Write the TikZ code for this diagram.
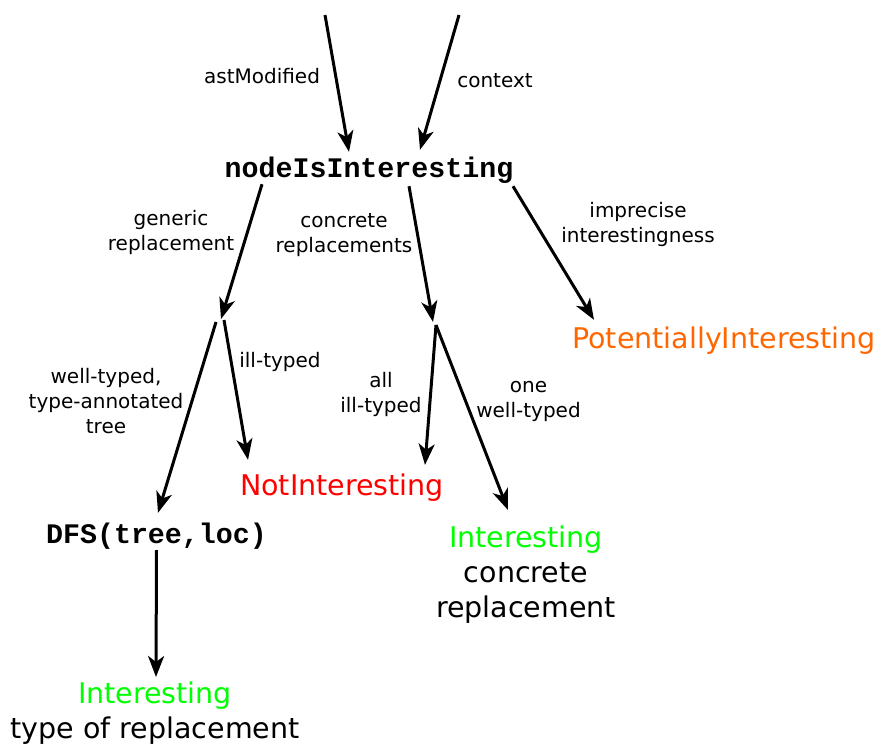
\documentclass[tikz,border=0pt]{standalone}
\usepackage{fontspec}
\setmainfont{DejaVu Sans}
\newfontfamily\codefont{Liberation Mono}
\usepackage{xcolor}
\usepackage{tikz}
\usetikzlibrary{arrows.meta}

\definecolor{potorange}{RGB}{255,102,0}
\definecolor{okgreen}{RGB}{0,255,0}
\definecolor{badred}{RGB}{255,0,0}

\begin{document}
\begin{tikzpicture}[
  x=1pt, y=-1pt,
  lbl/.style={align=center, inner sep=0pt, font=\fontsize{20}{25}\selectfont},
  code/.style={inner sep=0pt, text height=17pt, text depth=5pt,
               font=\codefont\bfseries\fontsize{28.3}{34}\selectfont},
  res/.style={align=center, inner sep=0pt, font=\fontsize{28.5}{35.2}\selectfont},
  arr/.style={-{Stealth[length=21pt, width=16pt, inset=6pt]}, line width=3pt},
]
\useasboundingbox (0,0) rectangle (878,745);

% Inputs
\coordinate (srcast) at (325,15);
\coordinate (srcctx) at (459,15);
\node[code, anchor=base] (nii) at (369,177) {nodeIsInteresting};

% Results
\node[res, anchor=base, text=potorange] (pot) at (724,348) {PotentiallyInteresting};
\node[res, anchor=base, text=badred] (notint) at (342,495) {NotInteresting};
\node[code, anchor=base] (dfs) at (156.5,543) {DFS(tree,loc)};
\node[res, anchor=north] (intc) at (526,525.3) {\textcolor{okgreen}{Interesting}\\concrete\\replacement};
\node[res, anchor=north] (intt) at (155,681.3) {\textcolor{okgreen}{Interesting}\\type of replacement};

% Splits
\coordinate (gensplit) at (221,319);
\coordinate (concsplit) at (433,322);

% Labels
\node[lbl, anchor=base] (lamod) at (262,83) {astModified};
\node[lbl, anchor=base] (lctx) at (495,87) {context};
\node[lbl, anchor=north] (lgen) at (171,209.8) {generic\\replacement};
\node[lbl, anchor=north] (lconc) at (344,213) {concrete\\replacements};
\node[lbl, anchor=north] (limp) at (638,201.8) {imprecise\\interestingness};
\node[lbl, anchor=north] (lwell) at (106,367.8) {well-typed,\\type-annotated\\tree};
\node[lbl, anchor=base] (lill) at (280,367) {ill-typed};
\node[lbl, anchor=north] (lall) at (381,371.8) {all\\ill-typed};
\node[lbl, anchor=north] (lone) at (528.5,381.1) {one\\well-typed};

% Arrows
\draw[arr] (srcast) -- ([xshift=-20pt, yshift=8pt]nii.north);
\draw[arr] (srcctx) -- ([xshift=51pt, yshift=10pt]nii.north);
\draw[arr] ([xshift=-107pt, yshift=-2pt]nii.south) -- (gensplit);
\draw[arr] ([xshift=40pt, yshift=-4pt]nii.south) -- (concsplit);
\draw[arr] ([xshift=144pt, yshift=-4pt]nii.south) -- ([xshift=-130pt, yshift=6.3pt]pot.north);
\draw[arr] ([xshift=-5pt, yshift=-3pt]gensplit) -- ([xshift=1.5pt, yshift=13pt]dfs.north);
\draw[arr] ([xshift=3pt, yshift=-1pt]gensplit) -- ([xshift=-94pt, yshift=13.3pt]notint.north);
\draw[arr] ([xshift=3pt, yshift=-3pt]concsplit) -- ([xshift=83pt, yshift=8.3pt]notint.north);
\draw[arr] ([xshift=3pt, yshift=-3pt]concsplit) -- ([xshift=-18pt, yshift=15.3pt]intc.north);
\draw[arr] ([yshift=-2pt]dfs.south) -- ([xshift=1pt, yshift=4.3pt]intt.north);

\end{tikzpicture}
\end{document}
